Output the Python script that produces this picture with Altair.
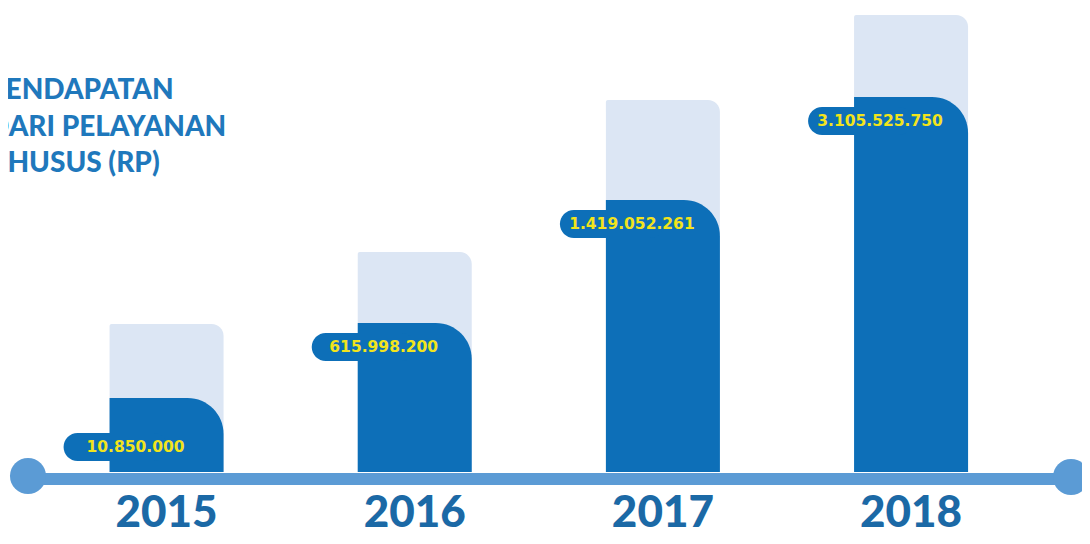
import altair as alt
import pandas as pd

# ---- data ----
years = [2015, 2016, 2017, 2018]
labels = ["10.850.000", "615.998.200", "1.419.052.261", "3.105.525.750"]
# drawn heights of the infographic bars (display index, not to scale with values)
bar_height = [74, 149, 272, 375]
backdrop_height = [148, 220, 372, 457]
title_lines = ["PENDAPATAN", "DARI PELAYANAN", "KHUSUS (RP)"]

DARK = "#0d6fb8"
LIGHT = "#dce6f4"
LINE = "#5b9bd5"
YEAR_C = "#1b69a6"
TITLE_C = "#1f78bc"
LABEL_C = "#f2e41c"

df = pd.DataFrame({"year": years, "label": labels, "dark": bar_height, "light": backdrop_height})

W, H = 1074, 528
xscale = alt.Scale(domain=[2014.3812, 2018.6686], nice=False, zero=False)
yscale = alt.Scale(domain=[-64, 464], nice=False, zero=False)

base = alt.Chart(df).encode(x=alt.X("year:Q", scale=xscale, axis=None))

light = base.mark_bar(color=LIGHT, size=114, cornerRadiusTopRight=12, cornerRadiusTopLeft=2).encode(
    y=alt.Y("light:Q", scale=yscale, axis=None), y2=alt.Y2(datum=0)
)
dark = base.mark_bar(color=DARK, size=114, cornerRadiusTopRight=36).encode(
    y=alt.Y("dark:Q", scale=yscale, axis=None), y2=alt.Y2(datum=0)
)

pill_base = (
    base.transform_calculate(mid="datum.dark < 100 ? 25 : datum.dark - 24")
    .transform_calculate(top="datum.mid + 14")
    .transform_calculate(bot="datum.mid - 14")
)
pill = pill_base.mark_bar(color=DARK, size=104, xOffset=-51, cornerRadius=14).encode(
    y=alt.Y("top:Q", scale=yscale, axis=None), y2="bot:Q"
)
pill_text = pill_base.mark_text(
    font="DejaVu Sans", fontSize=15.5, fontWeight="bold", color=LABEL_C,
    xOffset=-31, align="center", baseline="middle",
).encode(y=alt.Y("mid:Q", scale=yscale, axis=None), text="label:N")

year_text = base.mark_text(
    font="Lato", fontSize=44, fontWeight=900, color=YEAR_C, align="center", baseline="alphabetic"
).encode(y=alt.value(519), text=alt.Text("year:Q", format="d"))

one = alt.Chart(pd.DataFrame({"k": [0]}))
axis_line = one.mark_rule(color=LINE, strokeWidth=12).encode(
    x=alt.value(20), x2=alt.value(1063), y=alt.value(471)
)
dot_left = one.mark_point(shape="circle", filled=True, opacity=1, size=1300, color=LINE).encode(
    x=alt.value(20), y=alt.value(468)
)
dot_right = one.mark_point(shape="circle", filled=True, opacity=1, size=1300, color=LINE).encode(
    x=alt.value(1063), y=alt.value(469)
)

title = one.mark_text(
    font="Lato", fontSize=28, fontWeight=900, color=TITLE_C, align="left",
    baseline="alphabetic", lineHeight=36.5,
).encode(x=alt.value(-20), y=alt.value(91), text=alt.value(title_lines))

chart = (
    alt.layer(light, dark, pill, pill_text, axis_line, dot_left, dot_right, year_text, title)
    .properties(width=W, height=H, background="white", padding=0,
                autosize=alt.AutoSizeParams(type="none"))
    .configure_view(stroke=None)
)

chart.save("out.html", embed_options={"renderer": "svg", "actions": False})
